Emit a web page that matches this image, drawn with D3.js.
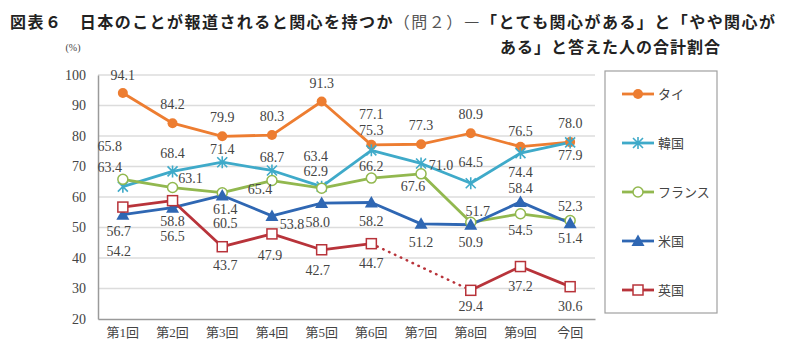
<!DOCTYPE html>
<html>
<head>
<meta charset="utf-8">
<script src="https://cdn.jsdelivr.net/npm/d3@7"></script>
<style>
  body { margin: 0; background: #fff; }
  svg { display: block; }
</style>
</head>
<body>
<svg width="800" height="354"></svg>
<script>

  // DATA

  var categories = ["第1回", "第2回", "第3回", "第4回", "第5回", "第6回", "第7回", "第8回", "第9回", "今回"];
  var yTicks = [20, 30, 40, 50, 60, 70, 80, 90, 100];

  var thai   = [94.1, 84.2, 79.9, 80.3, 91.3, 77.1, 77.3, 80.9, 76.5, 78.0];
  var korea  = [63.4, 68.4, 71.4, 68.7, 63.4, 75.3, 71.0, 64.5, 74.4, 77.9];
  var france = [65.8, 63.1, 61.4, 65.4, 62.9, 66.2, 67.6, 51.7, 54.5, 52.3];
  var usa    = [54.2, 56.5, 60.5, 53.8, 58.0, 58.2, 51.2, 50.9, 58.4, 51.4];
  var uk     = [56.7, 58.8, 43.7, 47.9, 42.7, 44.7, null, 29.4, 37.2, 30.6];

  // label offsets from each point (label centre)
  var labelOffsets = {
    thai:   [[0,-18],[0,-19],[0,-19],[0,-19],[0,-18],[0,-31],[0,-19],[0,-19],[0,-16],[0,-19]],
    korea:  [[-13,-20],[0,-18],[0,-13],[0,-13],[-6,-31],[0,-20],[20,2],[0,-21],[0,19],[0,13]],
    france: [[-13,-33],[18,-9],[3,16],[-12,9],[-6,-17],[0,-12],[-8,12],[7,-11],[0,16],[0,-14]],
    usa:    [[-4,36],[0,28],[3,28],[20,8],[-4,19],[0,19],[0,18],[0,17],[0,-14],[0,15]],
    uk:     [[-4,24],[0,20],[3,18],[-2,21],[-4,20],[0,19],null,[0,16],[0,20],[0,19]]
  };

  var series = [
    { key: "thai",   name: "タイ",     values: thai,   color: "#ED7D31", marker: "dot" },
    { key: "korea",  name: "韓国",     values: korea,  color: "#3FAAC9", marker: "star" },
    { key: "france", name: "フランス", values: france, color: "#92B84F", marker: "ring" },
    { key: "usa",    name: "米国",     values: usa,    color: "#2F67B3", marker: "tri" },
    { key: "uk",     name: "英国",     values: uk,     color: "#B8333A", marker: "square" }
  ];

  // SETUP

  var svg = d3.select("svg"),
    plotLeft = 98, plotRight = 595, plotTop = 75, plotBottom = 319;

  var x = d3.scaleBand().domain(categories).range([plotLeft, plotRight]);
  var y = d3.scaleLinear().domain([20, 100]).range([plotBottom, plotTop]);
  var cx = function (i) { return x(categories[i]) + x.bandwidth() / 2; };

  var numFont = "'Liberation Serif', 'Noto Sans CJK JP', serif";

  // title
  var title = svg.append("g")
    .attr("font-family", "'Noto Sans CJK JP', sans-serif")
    .attr("font-weight", "bold")
    .attr("font-size", 16)
    .attr("fill", "#222");

  var t1 = title.append("text")
    .attr("x", 10).attr("y", 28)
    .attr("textLength", 765).attr("lengthAdjust", "spacing");
  t1.append("tspan").text("図表６　日本のことが報道されると関心を持つか");
  t1.append("tspan").attr("font-weight", "normal").attr("fill", "#555").text("（問２）");
  t1.append("tspan").text("―「とても関心がある」と「やや関心が");

  title.append("text")
    .attr("x", 500).attr("y", 53)
    .attr("textLength", 220).attr("lengthAdjust", "spacing")
    .text("ある」と答えた人の合計割合");

  svg.append("text")
    .attr("x", 73).attr("y", 51)
    .attr("text-anchor", "middle")
    .attr("font-family", numFont)
    .attr("font-size", 10)
    .attr("fill", "#444")
    .text("(%)");

  // grid
  svg.append("g")
    .selectAll("line")
    .data(yTicks.filter(function (d) { return d > 20; }))
    .enter().append("line")
    .attr("x1", plotLeft).attr("x2", plotRight)
    .attr("y1", function (d) { return y(d); })
    .attr("y2", function (d) { return y(d); })
    .attr("stroke", "#dcdcdc")
    .attr("stroke-width", 1.5);

  // axes
  var yAxis = svg.append("g")
    .attr("transform", "translate(" + plotLeft + ",0)")
    .call(d3.axisLeft(y).tickValues(yTicks).tickSize(0).tickPadding(12));

  var xAxis = svg.append("g")
    .attr("transform", "translate(0," + plotBottom + ")")
    .call(d3.axisBottom(x).tickSize(0).tickPadding(9));

  [xAxis, yAxis].forEach(function (a) {
    a.select(".domain").attr("stroke", "#9a9a9a").attr("stroke-width", 1.5);
    a.selectAll("text")
      .attr("font-family", numFont)
      .attr("font-size", 14)
      .attr("fill", "#444");
  });
  xAxis.selectAll("text").attr("font-size", 13);

  // LINES

  var line = d3.line()
    .defined(function (d) { return d != null; })
    .x(function (d, i) { return cx(i); })
    .y(function (d) { return y(d); });

  var plot = svg.append("g");

  series.forEach(function (s) {
    // dotted bridge over the missing value
    for (var i = 0; i < s.values.length; i++) {
      if (s.values[i] == null && i > 0 && i < s.values.length - 1) {
        plot.append("line")
          .attr("x1", cx(i - 1)).attr("y1", y(s.values[i - 1]))
          .attr("x2", cx(i + 1)).attr("y2", y(s.values[i + 1]))
          .attr("stroke", s.color)
          .attr("stroke-width", 2.5)
          .attr("stroke-dasharray", "0.5,6")
          .attr("stroke-linecap", "round");
      }
    }
    plot.append("path")
      .datum(s.values)
      .attr("d", line)
      .attr("fill", "none")
      .attr("stroke", s.color)
      .attr("stroke-width", 2.8)
      .attr("stroke-linejoin", "round");
  });

  function drawMarker(g, type, color, px, py) {
    if (type === "dot") {
      g.append("circle").attr("cx", px).attr("cy", py).attr("r", 5).attr("fill", color);
    } else if (type === "ring") {
      g.append("circle").attr("cx", px).attr("cy", py).attr("r", 5)
        .attr("fill", "#fff").attr("stroke", color).attr("stroke-width", 1.5);
    } else if (type === "square") {
      g.append("rect").attr("x", px - 5).attr("y", py - 5).attr("width", 10).attr("height", 10)
        .attr("fill", "#fff").attr("stroke", color).attr("stroke-width", 1.5);
    } else if (type === "tri") {
      g.append("path")
        .attr("d", "M" + px + "," + (py - 6.5) + "L" + (px + 6.5) + "," + (py + 5) + "L" + (px - 6.5) + "," + (py + 5) + "Z")
        .attr("fill", color);
    } else if (type === "star") {
      g.append("path")
        .attr("d", "M" + (px - 5) + "," + (py - 5) + "L" + (px + 5) + "," + (py + 5) +
                   "M" + (px + 5) + "," + (py - 5) + "L" + (px - 5) + "," + (py + 5) +
                   "M" + px + "," + (py - 6) + "L" + px + "," + (py + 6))
        .attr("stroke", color).attr("stroke-width", 1.6).attr("fill", "none");
    }
  }

  series.forEach(function (s) {
    s.values.forEach(function (v, i) {
      if (v != null) drawMarker(plot, s.marker, s.color, cx(i), y(v));
    });
  });

  // data labels
  var labels = svg.append("g")
    .attr("font-family", numFont)
    .attr("font-size", 14)
    .attr("fill", "#444")
    .attr("text-anchor", "middle");

  series.forEach(function (s) {
    s.values.forEach(function (v, i) {
      var off = labelOffsets[s.key][i];
      if (v == null || !off) return;
      labels.append("text")
        .attr("x", cx(i) + off[0])
        .attr("y", y(v) + off[1])
        .attr("dy", "0.35em")
        .text(v.toFixed(1));
    });
  });

  // LEGEND

  var legend = svg.append("g");
  legend.append("rect")
    .attr("x", 605).attr("y", 71).attr("width", 112).attr("height", 242)
    .attr("fill", "#fff").attr("stroke", "#a0a0a0").attr("stroke-width", 1.2);

  var ly = d3.scalePoint().domain(series.map(function (s) { return s.key; })).range([94, 290]);

  series.forEach(function (s) {
    var yy = ly(s.key);
    legend.append("line")
      .attr("x1", 622).attr("x2", 654).attr("y1", yy).attr("y2", yy)
      .attr("stroke", s.color).attr("stroke-width", 2.8);
    drawMarker(legend, s.marker, s.color, 638, yy);
    legend.append("text")
      .attr("x", 658).attr("y", yy).attr("dy", "0.35em")
      .attr("font-family", "'Noto Sans CJK JP', sans-serif")
      .attr("font-size", 13)
      .attr("fill", "#444")
      .text(s.name);
  });

</script>
</body>
</html>
